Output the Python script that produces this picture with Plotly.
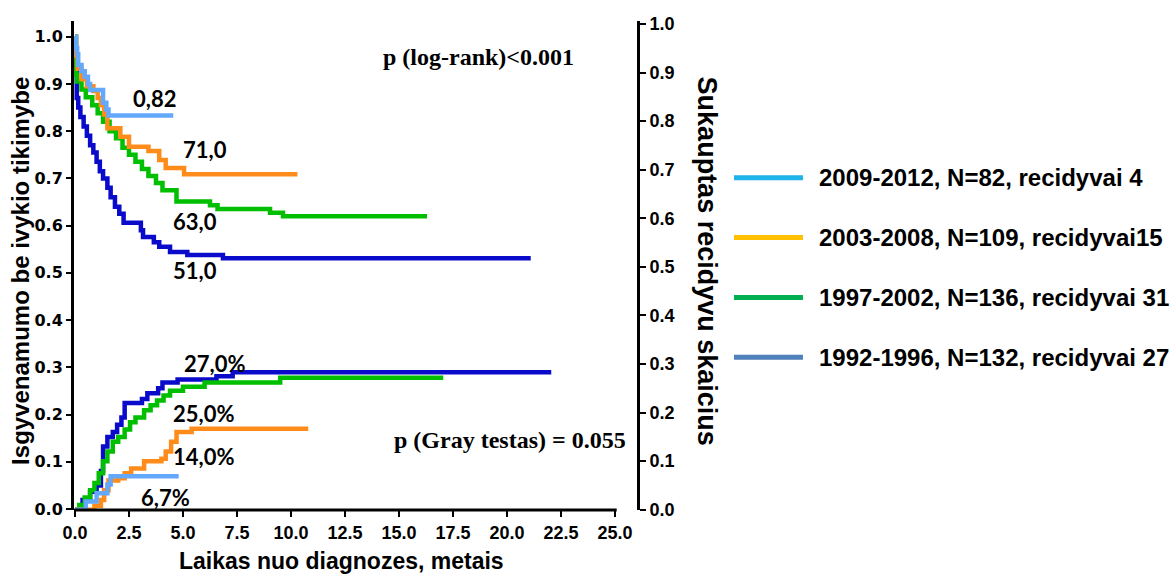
import plotly.graph_objects as go

# ---- Event-free survival (Kaplan-Meier), left axis ----
km_2009_t = [0, 0.05, 0.1, 0.15, 0.3, 0.45, 0.6, 0.7, 1.3, 1.45, 1.55, 4.55]
km_2009_s = [1.0, 0.976, 0.963, 0.94, 0.927, 0.915, 0.9, 0.887, 0.86, 0.846, 0.833, 0.833]

km_2003_t = [0, 0.05, 0.12, 0.3, 0.55, 0.85, 1.05, 1.2, 1.35, 1.5, 2.1, 2.5, 3.4, 3.9, 4.2, 5.05, 10.3]
km_2003_s = [1.0, 0.96, 0.932, 0.91, 0.895, 0.885, 0.87, 0.855, 0.835, 0.806, 0.788, 0.767, 0.758, 0.739, 0.722, 0.709, 0.709]

km_1997_t = [0, 0.05, 0.1, 0.3, 0.5, 0.8, 1.05, 1.3, 1.6, 1.9, 2.2, 2.5, 2.8, 3.1, 3.4, 3.75, 4.05, 4.7, 6.25, 6.6, 9.03, 9.63, 16.3]
km_1997_s = [1.0, 0.92, 0.905, 0.888, 0.872, 0.855, 0.838, 0.82, 0.8, 0.785, 0.765, 0.75, 0.735, 0.72, 0.705, 0.69, 0.675, 0.651, 0.643, 0.635, 0.627, 0.62, 0.62]

km_1992_t = [0, 0.03, 0.08, 0.15, 0.25, 0.4, 0.55, 0.7, 0.85, 1.0, 1.15, 1.3, 1.5, 1.65, 1.85, 2.05, 2.25, 3.05, 3.15, 3.65, 3.9, 4.4, 5.2, 6.85, 21.1]
km_1992_s = [1.0, 0.93, 0.87, 0.85, 0.83, 0.81, 0.79, 0.77, 0.755, 0.735, 0.715, 0.70, 0.68, 0.66, 0.64, 0.625, 0.606, 0.59, 0.576, 0.565, 0.555, 0.544, 0.538, 0.531, 0.531]

# ---- Cumulative recurrence, right axis ----
ci_2009_t = [0, 0.5, 1.0, 1.5, 1.65, 4.8]
ci_2009_v = [0, 0.017, 0.034, 0.052, 0.069, 0.069]

ci_2003_t = [0, 0.9, 1.2, 1.35, 1.55, 2.0, 2.3, 2.6, 3.2, 4.0, 4.2, 4.45, 4.7, 5.4, 10.8]
ci_2003_v = [0, 0.008, 0.02, 0.04, 0.06, 0.065, 0.075, 0.085, 0.1, 0.105, 0.12, 0.14, 0.16, 0.167, 0.167]

ci_1997_t = [0, 0.2, 0.45, 0.7, 0.9, 1.1, 1.3, 1.5, 1.75, 2.0, 2.3, 2.55, 2.8, 3.2, 3.5, 3.8, 4.1, 4.4, 5.0, 6.0, 9.5, 17.05]
ci_1997_v = [0, 0.01, 0.025, 0.04, 0.055, 0.075, 0.1, 0.12, 0.14, 0.15, 0.165, 0.18, 0.19, 0.205, 0.215, 0.225, 0.235, 0.245, 0.253, 0.262, 0.272, 0.272]

ci_1992_t = [0, 0.35, 0.7, 1.0, 1.2, 1.3, 1.5, 1.75, 1.95, 2.15, 2.3, 3.1, 3.35, 3.85, 4.05, 4.75, 6.55, 7.3, 22.05]
ci_1992_v = [0, 0.02, 0.037, 0.05, 0.08, 0.13, 0.15, 0.16, 0.175, 0.19, 0.22, 0.228, 0.24, 0.25, 0.262, 0.268, 0.275, 0.283, 0.283]

# curve colours and legend colours
curve_colors = ["#63A8FA", "#FF8C1A", "#00BF00", "#0A0ACB"]
legend_colors = ["#1EB4EA", "#FFC000", "#00B050", "#4F81BD"]
legend_labels = [
    "2009-2012, N=82, recidyvai 4",
    "2003-2008, N=109, recidyvai15",
    "1997-2002, N=136, recidyvai 31",
    "1992-1996, N=132, recidyvai 27",
]

# curve end labels: (text, x, y) anchored near each curve
km_labels = ["0,82", "71,0", "63,0", "51,0"]
km_label_x = [3.66, 6.02, 5.56, 5.56]
km_label_y = [0.870, 0.762, 0.608, 0.506]
ci_labels = ["27,0%", "25,0%", "14,0%", "6,7%"]
ci_label_x = [6.44, 5.93, 5.93, 4.21]
ci_label_y = [0.309, 0.203, 0.112, 0.025]

x_ticks = [0, 2.5, 5, 7.5, 10, 12.5, 15, 17.5, 20, 22.5, 25]
x_ticktext = ["%.1f" % v for v in x_ticks]

fig = go.Figure()

km_sets = [(km_2009_t, km_2009_s), (km_2003_t, km_2003_s), (km_1997_t, km_1997_s), (km_1992_t, km_1992_s)]
ci_sets = [(ci_2009_t, ci_2009_v), (ci_2003_t, ci_2003_v), (ci_1997_t, ci_1997_v), (ci_1992_t, ci_1992_v)]

# draw darkest first so the lighter curves sit on top
for i in [3, 2, 1, 0]:
    t, s = km_sets[i]
    fig.add_trace(go.Scatter(x=t, y=s, mode="lines", yaxis="y",
                             line=dict(color=curve_colors[i], width=4.5, shape="hv"),
                             showlegend=False, hoverinfo="skip"))
for i in [3, 2, 1, 0]:
    t, v = ci_sets[i]
    fig.add_trace(go.Scatter(x=t, y=v, mode="lines", yaxis="y2",
                             line=dict(color=curve_colors[i], width=4.5, shape="hv"),
                             showlegend=False, hoverinfo="skip"))

label_font = dict(family="Lato, Open Sans, sans-serif", size=22, color="black", weight="bold")
annotations = []
for txt, x, y in zip(km_labels, km_label_x, km_label_y):
    annotations.append(dict(x=x, y=y, xref="x", yref="y", text=txt, showarrow=False,
                            font=label_font, xanchor="center", yanchor="middle"))
for txt, x, y in zip(ci_labels, ci_label_x, ci_label_y):
    annotations.append(dict(x=x, y=y, xref="x", yref="y", text=txt, showarrow=False,
                            font=label_font, xanchor="center", yanchor="middle"))

pfont = dict(family="Liberation Serif, Times New Roman, serif", size=24, color="black", weight="bold")
annotations.append(dict(x=18.68, y=0.957, xref="x", yref="y", text="p (log-rank)<0.001",
                        showarrow=False, font=pfont, xanchor="center", yanchor="middle"))
annotations.append(dict(x=20.12, y=0.146, xref="x", yref="y", text="p (Gray testas) = 0.055",
                        showarrow=False, font=pfont, xanchor="center", yanchor="middle"))

# axis titles
annotations.append(dict(x=-0.095, y=0.488, xref="paper", yref="paper",
                        text="Isgyvenamumo be ivykio tikimybe", textangle=-90, showarrow=False,
                        font=dict(family="Liberation Sans, Arial, sans-serif", size=24, color="black", weight="bold"),
                        xanchor="center", yanchor="middle"))
annotations.append(dict(x=1.1243, y=0.508, xref="paper", yref="paper",
                        text="Sukauptas recidyvu skaicius", textangle=90, showarrow=False,
                        font=dict(family="Liberation Sans, Arial, sans-serif", size=27, color="black", weight="bold"),
                        xanchor="center", yanchor="middle"))
annotations.append(dict(x=0.476, y=-0.105, xref="paper", yref="paper",
                        text="Laikas nuo diagnozes, metais", showarrow=False,
                        font=dict(family="Liberation Sans, Arial, sans-serif", size=23, color="black", weight="bold"),
                        xanchor="center", yanchor="middle"))

# legend drawn as swatch lines with text
legend_rows = [0.6796, 0.5571, 0.4347, 0.3122]
shapes = []
for col, lab, ry in zip(legend_colors, legend_labels, legend_rows):
    shapes.append(dict(type="line", xref="paper", yref="paper", x0=1.1723, x1=1.2948,
                       y0=ry, y1=ry, line=dict(color=col, width=5)))
    annotations.append(dict(x=1.3197, y=ry, xref="paper", yref="paper", text=lab, showarrow=False,
                            font=dict(family="Liberation Sans, Arial, sans-serif", size=24, color="black", weight="bold"),
                            xanchor="left", yanchor="middle"))

# bottom axis line stops at the last tick
shapes.append(dict(type="line", xref="x", yref="paper", x0=-0.05, x1=25.08, y0=0, y1=0,
                   line=dict(color="black", width=3)))

fig.update_layout(
    width=1174, height=575,
    margin=dict(l=74, r=537, t=21, b=65),
    paper_bgcolor="white", plot_bgcolor="white",
    showlegend=False,
    annotations=annotations,
    shapes=shapes,
    xaxis=dict(range=[-0.046, 26.02], tickvals=x_ticks, ticktext=x_ticktext,
               ticks="outside", ticklen=6, tickwidth=2, tickcolor="black",
               showline=False, showgrid=False, zeroline=False,
               tickfont=dict(family="Liberation Sans, Arial, sans-serif",
                             size=18, color="black", weight="bold")),
    yaxis=dict(range=[-0.0021, 1.0332], dtick=0.1, tick0=0, tickformat=".1f",
               ticks="outside", ticklen=5, tickwidth=2, tickcolor="black",
               showline=True, linewidth=3, linecolor="black",
               showgrid=False, zeroline=False,
               tickfont=dict(family="DejaVu Sans, sans-serif", size=16, color="black", weight="bold")),
    yaxis2=dict(range=[-0.0005, 1.0062], dtick=0.1, tick0=0, tickformat=".1f",
                overlaying="y", side="right", anchor="x",
                ticks="outside", ticklen=6, tickwidth=2, tickcolor="black",
                showline=True, linewidth=3, linecolor="black",
                showgrid=False, zeroline=False,
                tickfont=dict(family="Liberation Sans, Arial, sans-serif", size=18, color="black", weight="bold")),
)

fig.write_html("out.html")
